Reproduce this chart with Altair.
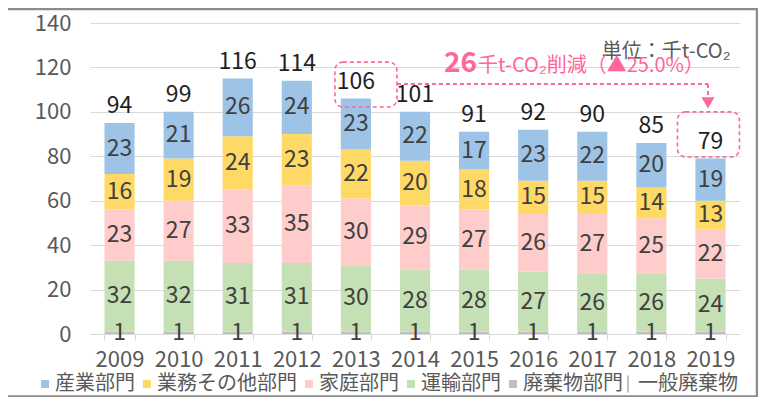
import altair as alt
import pandas as pd

# ---------------- data ----------------
years = ["2009", "2010", "2011", "2012", "2013", "2014", "2015", "2016", "2017", "2018", "2019"]
sectors = ["産業部門", "業務その他部門", "家庭部門", "運輸部門", "廃棄物部門"]
colors = ["#9DC3E6", "#FFD966", "#FFCCCC", "#C5E0B4", "#BFBFBF"]

industry = [23, 21, 26, 24, 23, 22, 17, 23, 22, 20, 19]
business = [16, 19, 24, 23, 22, 20, 18, 15, 15, 14, 13]
household = [23, 27, 33, 35, 30, 29, 27, 26, 27, 25, 22]
transport = [32, 32, 31, 31, 30, 28, 28, 27, 26, 26, 24]
waste = [1, 1, 1, 1, 1, 1, 1, 1, 1, 1, 1]
totals = [94, 99, 116, 114, 106, 101, 91, 92, 90, 85, 79]

series = {
    "産業部門": industry,
    "業務その他部門": business,
    "家庭部門": household,
    "運輸部門": transport,
    "廃棄物部門": waste,
}
stack_order = ["廃棄物部門", "運輸部門", "家庭部門", "業務その他部門", "産業部門"]

rows = []
tops = []
for i, yr in enumerate(years):
    base = 0
    for s in stack_order:
        v = series[s][i]
        rows.append(dict(year=yr, sector=s, value=v, y0=base, y1=base + v, mid=base + v / 2))
        base += v
    tops.append(dict(year=yr, top=base, label=str(totals[i])))
seg = pd.DataFrame(rows)
tot = pd.DataFrame(tops)

PINK = "#FF6699"
NUM_FONT = "Noto Sans CJK JP, sans-serif"
CJK_FONT = "Noto Sans CJK JP, sans-serif"
MIX_FONT = "Noto Sans CJK JP, sans-serif"

x_enc = alt.X(
    "year:N",
    scale=alt.Scale(domain=years, paddingInner=0.49, paddingOuter=0.245),
    axis=alt.Axis(
        title=None, labelAngle=0, labelFont=NUM_FONT, labelFontSize=22,
        labelColor="#595959", labelPadding=9, domainColor="#D9D9D9",
        tickColor="#D9D9D9", tickSize=6, tickBand="extent", grid=False,
    ),
)
y_scale = alt.Scale(domain=[0, 140], nice=False, zero=True)

bars = alt.Chart(seg).mark_bar().encode(
    x=x_enc,
    y=alt.Y(
        "y0:Q", scale=y_scale,
        axis=alt.Axis(
            title=None, values=[0, 20, 40, 60, 80, 100, 120, 140], grid=True,
            gridColor="#D9D9D9", ticks=False, domain=False, labelFont=NUM_FONT,
            labelFontSize=22, labelColor="#595959", labelPadding=19,
        ),
    ),
    y2="y1:Q",
    color=alt.Color(
        "sector:N",
        scale=alt.Scale(domain=sectors, range=colors),
        legend=alt.Legend(
            orient="none", legendX=-55, legendY=351, direction="horizontal",
            title=None, symbolType="square", symbolSize=64, symbolStrokeWidth=0,
            labelFont=CJK_FONT, labelFontSize=20, labelColor="#595959",
            labelOffset=0, columnPadding=2, padding=0,
        ),
    ),
)

seg_text = alt.Chart(seg).mark_text(
    font=NUM_FONT, fontSize=23, color="#404040", baseline="middle"
).encode(x="year:N", y=alt.Y("mid:Q", scale=y_scale), text="value:N")

tot_text = alt.Chart(tot).mark_text(
    font=NUM_FONT, fontSize=23, color="#1F1F1F", baseline="alphabetic", dy=-10
).encode(x="year:N", y=alt.Y("top:Q", scale=y_scale), text="label:N")

# ---------------- annotations ----------------
box1 = pd.DataFrame({"year": ["2013"], "lo": [102.2], "hi": [122.4]})
box2 = pd.DataFrame({"year": ["2019"], "lo": [79.7], "hi": [100.0]})
box_style = dict(fillOpacity=0, stroke=PINK, strokeWidth=1.6, strokeDash=[4, 3],
                 cornerRadius=8, width=62)
b1 = alt.Chart(box1).mark_bar(xOffset=10, **box_style).encode(
    x="year:N", y=alt.Y("lo:Q", scale=y_scale), y2="hi:Q")
b2 = alt.Chart(box2).mark_bar(xOffset=-2, **box_style).encode(
    x="year:N", y=alt.Y("lo:Q", scale=y_scale), y2="hi:Q")

harrow = pd.DataFrame({"year": ["2013"], "year2": ["2019"], "yv": [112.5]})
h = alt.Chart(harrow).mark_rule(
    color=PINK, strokeWidth=2, strokeDash=[4, 3], xOffset=41, x2Offset=-2.5
).encode(x="year:N", x2="year2:N", y=alt.Y("yv:Q", scale=y_scale))

varrow = pd.DataFrame({"year": ["2019"], "yv": [112.5], "yv2": [106.0], "tip": [104.0]})
v = alt.Chart(varrow).mark_rule(
    color=PINK, strokeWidth=2, strokeDash=[4, 3], xOffset=-2.5
).encode(x="year:N", y=alt.Y("yv:Q", scale=y_scale), y2="yv2:Q")
tri = alt.Chart(varrow).mark_point(
    shape="triangle-down", filled=True, size=170, color=PINK, opacity=1, xOffset=-2.5
).encode(x="year:N", y=alt.Y("tip:Q", scale=y_scale))

unit_df = pd.DataFrame({"year": ["2019"], "yv": [124.2], "t": ["単位：千t-CO₂"]})
unit = alt.Chart(unit_df).mark_text(
    font=MIX_FONT, fontSize=20, color="#595959", align="right", baseline="alphabetic", xOffset=20
).encode(x="year:N", y=alt.Y("yv:Q", scale=y_scale), text="t:N")

red_df = pd.DataFrame({"year": ["2015"], "yv": [118.0], "big": ["26"], "rest": ["千t-CO₂削減（▲25.0%）"]})
red_big = alt.Chart(red_df).mark_text(
    font=NUM_FONT, fontSize=28, fontWeight="bold", color=PINK, align="right",
    baseline="alphabetic", xOffset=3
).encode(x="year:N", y=alt.Y("yv:Q", scale=y_scale), text="big:N")
red_rest = alt.Chart(red_df).mark_text(
    font=MIX_FONT, fontSize=20, color=PINK, align="left", baseline="alphabetic", xOffset=4
).encode(x="year:N", y=alt.Y("yv:Q", scale=y_scale), text="rest:N")

# extra legend entry (一般廃棄物, vertical line symbol)
leg2_df = pd.DataFrame({"year": ["2019"], "yv": [0], "name": ["一般廃棄物"]})
leg2 = alt.Chart(leg2_df).mark_point(filled=False, opacity=0, color="#BFBFBF").encode(
    x="year:N", y=alt.Y("yv:Q", scale=y_scale),
    shape=alt.Shape(
        "name:N",
        scale=alt.Scale(domain=["一般廃棄物"], range=["M0,-1L0,1"]),
        legend=alt.Legend(
            orient="none", legendX=528, legendY=351, title=None, symbolSize=289,
            symbolStrokeColor="#BFBFBF", symbolStrokeWidth=2, symbolOpacity=1,
            labelFont=CJK_FONT, labelFontSize=20, labelColor="#595959",
            labelOffset=0, padding=0,
        ),
    ),
)

# frame lines
one = pd.DataFrame({"k": [0]})
frame_top = alt.Chart(one).mark_rule(color="#8C8C8C", strokeWidth=2.5).encode(
    x=alt.value(-82), x2=alt.value(668), y=alt.value(-14))
frame_right = alt.Chart(one).mark_rule(color="#8C8C8C", strokeWidth=2.5).encode(
    x=alt.value(667), y=alt.value(-14), y2=alt.value(374.5))
frame_bottom = alt.Chart(one).mark_rule(color="#8C8C8C", strokeWidth=2.5).encode(
    x=alt.value(-82), x2=alt.value(668), y=alt.value(373.5))

chart = alt.layer(
    frame_top, frame_right, frame_bottom, bars, seg_text, tot_text, b1, b2, h, v, tri,
    unit, red_big, red_rest, leg2,
).resolve_legend(color="independent", shape="independent").properties(
    width=650, height=311,
    padding={"left": 82, "top": 15, "right": 18, "bottom": 63},
    autosize=alt.AutoSizeParams(type="none"),
).configure_view(stroke=None)

chart.save("out.html", embed_options={"renderer": "svg", "actions": False})
